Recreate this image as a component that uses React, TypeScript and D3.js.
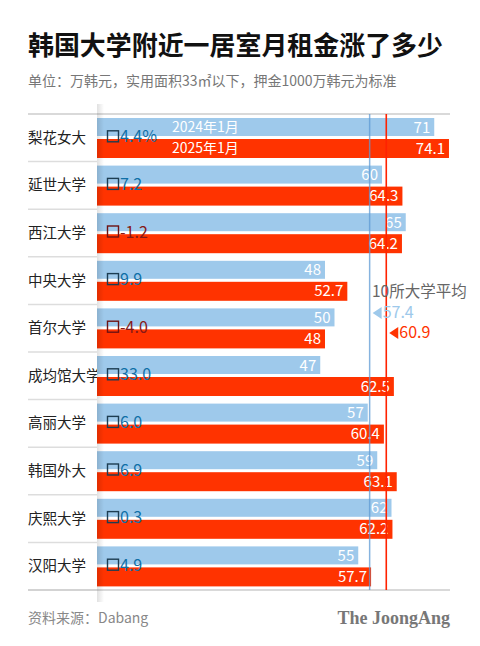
import React from "react";
import * as d3 from "d3";

const schools = ["梨花女大", "延世大学", "西江大学", "中央大学", "首尔大学", "成均馆大学", "高丽大学", "韩国外大", "庆熙大学", "汉阳大学"];
const rent2024 = [71, 60, 65, 48, 50, 47, 57, 59, 62, 55];
const rent2025 = [74.1, 64.3, 64.2, 52.7, 48, 62.5, 60.4, 63.1, 62.2, 57.7];
const changes = ["4.4%", "7.2", "-1.2", "9.9", "-4.0", "33.0", "6.0", "6.9", "0.3", "4.9"];
const avg2024 = 57.4;
const avg2025 = 60.9;
const seriesNames = ["2024年1月", "2025年1月"];

const BLUE = "#9ec9eb";
const RED = "#ff3300";
const FONT = "'Noto Sans CJK SC', 'Noto Sans', sans-serif";

export default function App() {
  const W = 480, H = 646;
  const left = 28, right = 450;
  const x = d3.scaleLinear().domain([0, 100]).range([97, 97 + 475]);
  const y = d3.scaleBand<string>().domain(schools).range([114, 590]).padding(0);
  const bw = y.bandwidth();

  return (
    <svg width={W} height={H} style={{ position: "absolute", left: 0, top: 0, background: "#fff" }} fontFamily={FONT}>
      <defs>
        <linearGradient id="shade" x1="0" x2="1" y1="0" y2="0">
          <stop offset="0" stopColor="#000" stopOpacity={0.12} />
          <stop offset="1" stopColor="#000" stopOpacity={0} />
        </linearGradient>
      </defs>
      <rect width={W} height={H} fill="#fff" />
      <text x={left} y={55} fontSize={26.5} fontWeight={700} fill="#111" textLength={415} lengthAdjust="spacingAndGlyphs">韩国大学附近一居室月租金涨了多少</text>
      <text x={left} y={86} fontSize={14} fill="#777">单位：万韩元，实用面积33㎡以下，押金1000万韩元为标准</text>

      {schools.map((s, i) => {
        const y0 = y(s)!;
        return (
          <g key={s}>
            <line x1={left} x2={97} y1={y0 + bw} y2={y0 + bw} stroke="#ddd" strokeWidth={1.5} />
            <text x={left} y={y0 + bw / 2 + 5} fontSize={14.5} fill="#222">{s}</text>
            <rect x={x(0)} y={y0 + 4} width={x(rent2024[i]) - x(0)} height={18} fill={BLUE} />
            <rect x={x(0)} y={y0 + 25} width={x(rent2025[i]) - x(0)} height={19} fill={RED} />
            <text x={x(rent2024[i]) - 4} y={y0 + 18.5} fontSize={15} fill="#fff" textAnchor="end">{rent2024[i]}</text>
            <text x={x(rent2025[i]) - 4} y={y0 + 39.5} fontSize={15} fill="#fff" textAnchor="end">{rent2025[i]}</text>
          </g>
        );
      })}

      <line x1={left} x2={right} y1={114} y2={114} stroke="#ccc" strokeWidth={1.5} />
      <line x1={left} x2={right} y1={590} y2={590} stroke="#ccc" strokeWidth={1.5} />

      <text x={172} y={y(schools[0])! + 18} fontSize={14} fill="#fff">{seriesNames[0]}</text>
      <text x={172} y={y(schools[0])! + 39} fontSize={14} fill="#fff">{seriesNames[1]}</text>

      {schools.map((s, i) => {
        const neg = changes[i].startsWith("-");
        const col = neg ? "#861818" : "#0f6fa6";
        const cy = y(s)! + bw / 2;
        return (
          <g key={"c" + s}>
            <rect x={107.5} y={cy - 7} width={11} height={11} fill="none" stroke={neg ? "#6e1212" : "#1d3d52"} strokeWidth={1.4} />
            <text x={120} y={cy + 4.5} fontSize={16} fill={col}>{changes[i]}</text>
          </g>
        );
      })}

      <line x1={x(avg2024)} x2={x(avg2024)} y1={114} y2={590} stroke="#5d9ad4" strokeWidth={1.5} strokeOpacity={0.75} />
      <line x1={x(avg2025)} x2={x(avg2025)} y1={114} y2={590} stroke="#ff2200" strokeWidth={1.6} />

      <text x={372} y={297} fontSize={15.5} fill="#666">10所大学平均</text>
      <path d={`M${x(avg2024) + 3},${313} l9,-6 v12 z`} fill={BLUE} />
      <text x={x(avg2024) + 13} y={318} fontSize={16} fill={BLUE}>{avg2024}</text>
      <path d={`M${x(avg2025) + 3},${333} l9,-6 v12 z`} fill={RED} />
      <text x={x(avg2025) + 13} y={338} fontSize={16} fill={RED}>{avg2025}</text>

      <rect x={97} y={104} width={7} height={498} fill="url(#shade)" />

      <text x={left} y={623} fontSize={14} fill="#888">资料来源：Dabang</text>
      <text x={right} y={624} fontSize={18} fontWeight={700} fill="#777" textAnchor="end" fontFamily="'Liberation Serif', serif">The JoongAng</text>
    </svg>
  );
}
